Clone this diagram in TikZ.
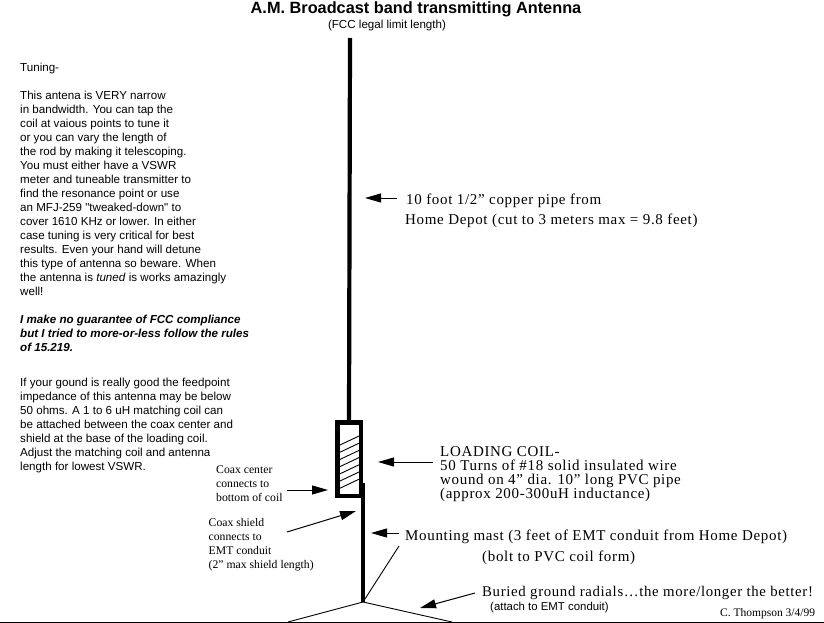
\documentclass[tikz,border=0pt]{standalone}
\usepackage{fontspec}
\usetikzlibrary{arrows.meta}
\setmainfont{Liberation Sans}
\newfontfamily\nomap{Liberation Sans}
\newfontfamily\serifwide[LetterSpace=4.5]{Liberation Serif}
\newfontfamily\serifplain{Liberation Serif}
\tikzset{
  x=1pt,y=-1pt,
  lefttext/.style={anchor=north west,inner sep=0pt,align=left,font=\fontsize{11.6}{14}\selectfont},
  boldtext/.style={lefttext,font=\fontsize{11.6}{14}\selectfont\bfseries\itshape},
  smallserif/.style={anchor=north west,inner sep=0pt,align=left,font=\serifplain\fontsize{11.7}{14}\selectfont},
  bigserif/.style={anchor=base west,inner sep=0pt,font=\serifwide\fontsize{15}{15}\selectfont},
  coilbox/.style={draw,line width=4.5pt,minimum width=23.5pt,minimum height=73.5pt,inner sep=0pt},
  pipe/.style={line width=4.2pt},
  thin line/.style={line width=0.9pt},
  pointer/.style={line width=1pt,-{Triangle[length=16pt,width=9pt]}},
}
\begin{document}
\begin{tikzpicture}
\useasboundingbox (0,0) rectangle (824,623);
\fill[white] (0,0) rectangle (824,623);
% title
\node[anchor=base,inner sep=0pt,font=\fontsize{16.3}{17}\selectfont\bfseries] (title) at (416,14) {A.M. Broadcast band transmitting Antenna};
\node[anchor=base,inner sep=0pt,font=\fontsize{11.6}{12}\selectfont] (sub) at (387,29) {(FCC legal limit length)};
% left text
\node[lefttext] (tune) at (20,62.8) {Tuning-\\[14pt]This antena is VERY narrow\\in bandwidth.  You can tap the\\coil at vaious points to tune it\\or you can vary the length of\\the rod by making it telescoping.\\You must either have a VSWR\\meter and tuneable transmitter to\\find the resonance point or use\\an MFJ-259 {\nomap"}tweaked-down{\nomap"} to\\cover 1610 KHz or lower. In either\\case tuning is very critical for best\\results.  Even your hand will detune\\this type of antenna so beware. When\\the antenna is \textit{tuned} is works amazingly\\well!};
\node[boldtext] (warn) at (20,314.5) {I make no guarantee of FCC compliance\\but I tried to more-or-less follow the rules\\of 15.219.};
\node[lefttext] (ground) at (20,377.8) {If your gound is really good the feedpoint\\impedance of this antenna may be below\\50 ohms.  A 1 to 6 uH matching coil can\\be attached between the coax center and\\shield at the base of the loading coil.\\Adjust the matching coil and antenna\\length for lowest VSWR.};
\node[smallserif] (center) at (216,465.2) {Coax center\\connects to\\bottom of coil};
\node[smallserif] (shield) at (208.5,518.2) {Coax shield\\connects to\\EMT conduit\\(2” max shield length)};
% right serif text
\node[bigserif] (pipe1) at (406,204) {10 foot 1/2” copper pipe from};
\node[bigserif] (pipe2) at (405,224) {Home Depot (cut to 3 meters max = 9.8 feet)};
\node[bigserif] (coilA) at (440,456) {LOADING COIL-};
\node[bigserif] (coilB) at (440,470) {50 Turns of \#18 solid insulated wire};
\node[bigserif] (coilC) at (440,484) {wound on 4” dia. 10” long PVC pipe};
\node[bigserif] (coilD) at (440,498) {(approx 200-300uH inductance)};
\node[bigserif] (mast) at (405,540) {Mounting mast (3 feet of EMT conduit from Home Depot)};
\node[bigserif] (bolt) at (482,561) {(bolt to PVC coil form)};
\node[bigserif,font=\serifwide\fontsize{14.8}{15}\selectfont] (radial) at (482,596) {Buried ground radials…the more/longer the better!};
\node[anchor=base west,inner sep=0pt,font=\fontsize{11.4}{12}\selectfont] (attach) at (490,610) {(attach to EMT conduit)};
\node[anchor=base west,inner sep=0pt,font=\serifplain\fontsize{11.5}{12}\selectfont] (sig) at (720,616) {C. Thompson 3/4/99};
% antenna
\coordinate (top) at (350,38);
\coordinate (hub) at (363,602);
\coordinate (tap) at (363,483);
\node[coilbox] (coil) at (349,459) {};
\draw[pipe] (top) -- (coil.north);
\draw[pipe] (tap) -- (hub);
\foreach \i in {0,...,6}{
  \draw[thin line] (340,445+7.2*\i) -- (359,436+7.2*\i);
}
% radials
\coordinate (ra) at (288,622);
\coordinate (rb) at (452,622);
\coordinate (rc) at (399,546);
\draw[thin line] (hub) -- (ra);
\draw[thin line] (hub) -- (rb);
\draw[thin line] (hub) -- (rc);
\coordinate (gl) at (0,622);
\coordinate (gr) at (824,622);
\draw[line width=1pt] (gl) -- (gr);
% pointers
\coordinate (p1a) at (397,198); \coordinate (p1b) at (365,198);
\draw[pointer] (p1a) -- (p1b);
\coordinate (p2a) at (433,462); \coordinate (p2b) at (378,462);
\draw[pointer] (p2a) -- (p2b);
\coordinate (p3a) at (287,490); \coordinate (p3b) at (328,490);
\draw[pointer] (p3a) -- (p3b);
\coordinate (p4a) at (287,532); \coordinate (p4b) at (356,511);
\draw[pointer] (p4a) -- (p4b);
\coordinate (p5a) at (399,533); \coordinate (p5b) at (371,533);
\draw[pointer] (p5a) -- (p5b);
\coordinate (p6a) at (475,593); \coordinate (p6b) at (420,608);
\draw[pointer] (p6a) -- (p6b);
\end{tikzpicture}
\end{document}
